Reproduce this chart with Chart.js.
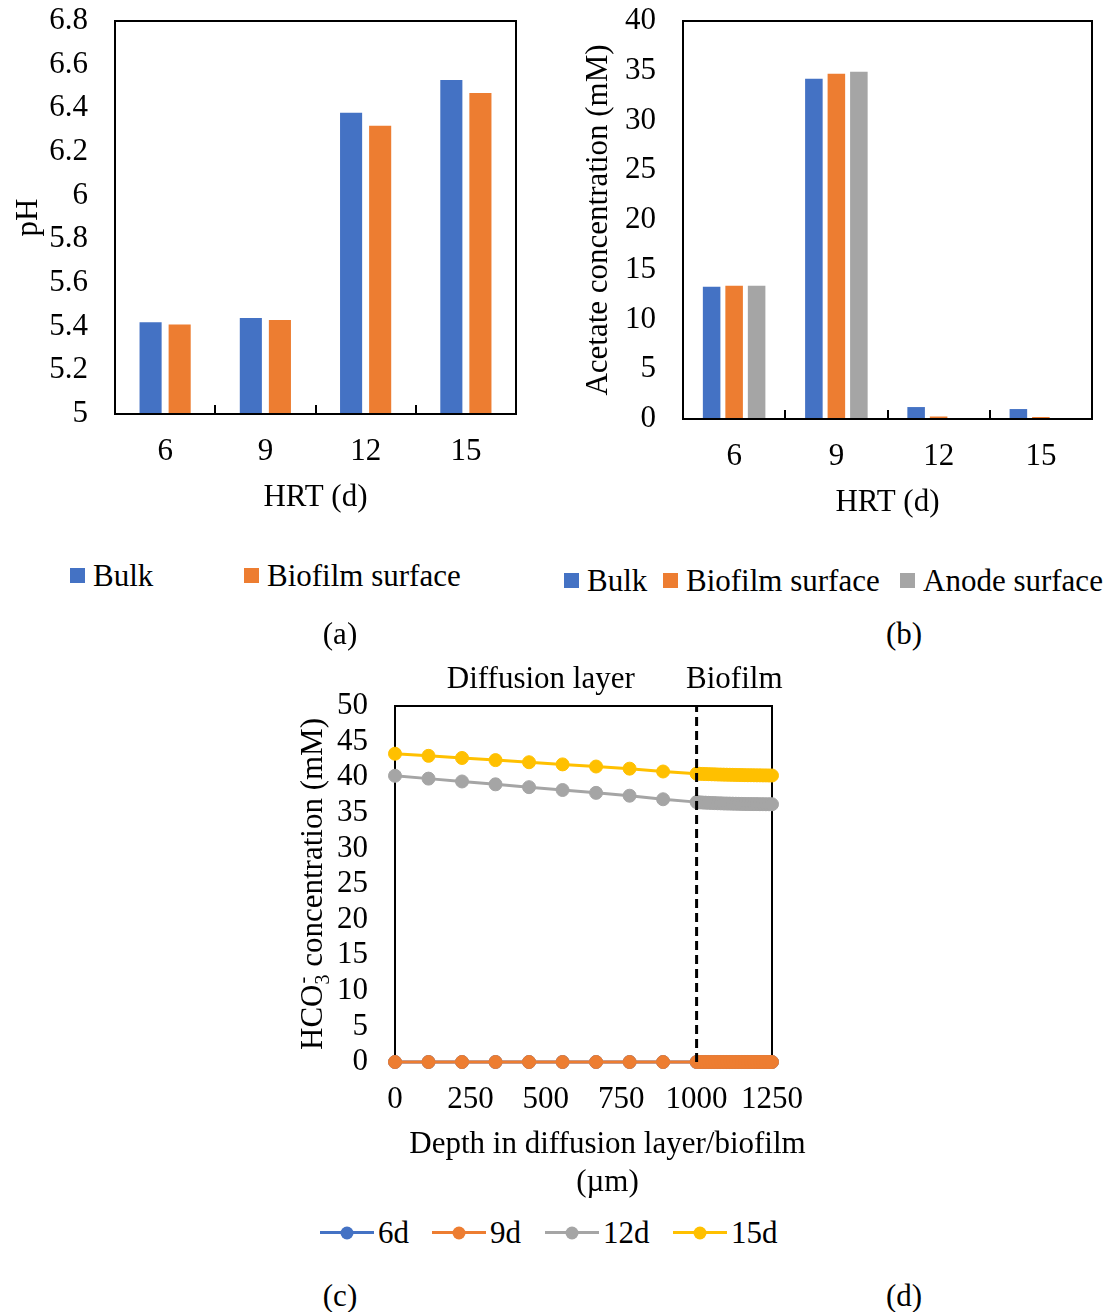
<!DOCTYPE html>
<html>
<head>
<meta charset="utf-8">
<title>HRT: pH, acetate and bicarbonate profiles</title>
<script src="https://cdn.jsdelivr.net/npm/chart.js@4.4.1/dist/chart.umd.min.js"></script>
<style>
  body { margin: 0; background: #fff; }
  #figure {
    position: relative; width: 1114px; height: 1312px; overflow: hidden;
    font-family: 'Liberation Serif', serif; font-size: 31px; color: #000;
  }
  #figure canvas { position: absolute; }
  .key { position: absolute; display: flex; align-items: center; line-height: 1; white-space: nowrap; }
  .swatch { width: 15px; height: 15px; margin-right: 8px; }
  .trace { position: relative; width: 54px; height: 3px; margin-right: 4px; }
  .trace::after {
    content: ""; position: absolute; left: 50%; top: 50%; width: 13px; height: 13px;
    border-radius: 50%; background: inherit; transform: translate(-50%, -50%);
  }
  .panel { position: absolute; line-height: 1; transform: translateX(-50%); }
</style>
</head>
<body>
<div id="figure">
  <canvas id="phChart" width="545" height="520" style="left:0;top:0"></canvas>
  <canvas id="acetateChart" width="554" height="525" style="left:560px;top:0"></canvas>
  <canvas id="hco3Chart" width="560" height="560" style="left:280px;top:650px"></canvas>

  <div class="key" style="left:70px;top:560px"><span class="swatch" style="background:#4472C4"></span>Bulk</div>
  <div class="key" style="left:244px;top:560px"><span class="swatch" style="background:#ED7D31"></span>Biofilm surface</div>

  <div class="key" style="left:564px;top:565px"><span class="swatch" style="background:#4472C4"></span>Bulk</div>
  <div class="key" style="left:663px;top:565px"><span class="swatch" style="background:#ED7D31"></span>Biofilm surface</div>
  <div class="key" style="left:900px;top:565px"><span class="swatch" style="background:#A5A5A5"></span>Anode surface</div>

  <div class="key" style="left:320px;top:1217px"><span class="trace" style="background:#4472C4"></span>6d</div>
  <div class="key" style="left:432px;top:1217px"><span class="trace" style="background:#ED7D31"></span>9d</div>
  <div class="key" style="left:545px;top:1217px"><span class="trace" style="background:#A5A5A5"></span>12d</div>
  <div class="key" style="left:673px;top:1217px"><span class="trace" style="background:#FFC000"></span>15d</div>

  <div class="panel" style="left:340px;top:618px">(a)</div>
  <div class="panel" style="left:904px;top:618px">(b)</div>
  <div class="panel" style="left:340px;top:1280px">(c)</div>
  <div class="panel" style="left:904px;top:1280px">(d)</div>
</div>

<script>
// HRT groups (d)
const hrtLabels = ['6', '9', '12', '15'];

// pH in the bulk liquid and at the biofilm surface
const phBulk = [5.42, 5.44, 6.38, 6.53];
const phBiofilm = [5.41, 5.43, 6.32, 6.47];

// acetate concentration (mM)
const acetateBulk = [13.3, 34.2, 1.2, 1.0];
const acetateBiofilm = [13.4, 34.7, 0.25, 0.2];
const acetateAnode = [13.4, 34.9, 0, 0];

// depth into diffusion layer (0-1000) and biofilm (1000-1250), µm
const biofilmStart = 1000;
const depth = [0, 111.1, 222.2, 333.3, 444.4, 555.6, 666.7, 777.8, 888.9, 1000,
  1010, 1020, 1030, 1040, 1050, 1060, 1070, 1080, 1090, 1100, 1110, 1120, 1130,
  1140, 1150, 1160, 1170, 1180, 1190, 1200, 1210, 1220, 1230, 1240, 1250];

// HCO3- concentration (mM) along the depth profile
const hco3_6d = [0, 0, 0, 0, 0, 0, 0, 0, 0, 0,
  0, 0, 0, 0, 0, 0, 0, 0, 0, 0, 0, 0, 0, 0, 0, 0, 0, 0, 0, 0, 0, 0, 0, 0, 0];
const hco3_9d = [0, 0, 0, 0, 0, 0, 0, 0, 0, 0,
  0, 0, 0, 0, 0, 0, 0, 0, 0, 0, 0, 0, 0, 0, 0, 0, 0, 0, 0, 0, 0, 0, 0, 0, 0];
const hco3_12d = [40.2, 39.8, 39.4, 39.0, 38.6, 38.2, 37.8, 37.4, 36.9, 36.5,
  36.47, 36.44, 36.42, 36.40, 36.38, 36.36, 36.34, 36.33, 36.31, 36.30, 36.29, 36.28,
  36.27, 36.26, 36.25, 36.24, 36.23, 36.23, 36.22, 36.22, 36.21, 36.21, 36.20, 36.20, 36.20];
const hco3_15d = [43.3, 43.0, 42.7, 42.4, 42.1, 41.8, 41.5, 41.2, 40.8, 40.5,
  40.48, 40.46, 40.44, 40.43, 40.41, 40.40, 40.38, 40.37, 40.36, 40.35, 40.34, 40.33,
  40.32, 40.31, 40.30, 40.29, 40.28, 40.28, 40.27, 40.26, 40.26, 40.25, 40.25, 40.24, 40.24];

const BLUE = '#4472C4', ORANGE = '#ED7D31', GRAY = '#A5A5A5', GOLD = '#FFC000';
const FONT = "'Liberation Serif', serif";

Chart.defaults.font.family = FONT;
Chart.defaults.font.size = 31;
Chart.defaults.color = '#000';
Chart.defaults.animation = false;
Chart.defaults.responsive = false;
Chart.defaults.plugins.legend.display = false;
Chart.defaults.plugins.tooltip.enabled = false;

// black box around the plot area
function framePlugin(onTop) {
  const draw = (chart) => {
    const { ctx, chartArea: a } = chart;
    ctx.save();
    ctx.strokeStyle = '#000';
    ctx.lineWidth = 2;
    ctx.strokeRect(a.left, a.top, a.right - a.left, a.bottom - a.top);
    ctx.restore();
  };
  return onTop ? { id: 'frame', afterDatasetsDraw: draw } : { id: 'frame', beforeDatasetsDraw: draw };
}

// short inward tick marks between the category groups
const groupTicks = {
  id: 'groupTicks',
  afterDatasetsDraw(chart) {
    const { ctx, chartArea: a, scales: { x } } = chart;
    ctx.save();
    ctx.strokeStyle = '#000';
    ctx.lineWidth = 2;
    ctx.beginPath();
    for (let i = 0; i < x.ticks.length - 1; i++) {
      const px = Math.round((x.getPixelForTick(i) + x.getPixelForTick(i + 1)) / 2);
      ctx.moveTo(px, a.bottom);
      ctx.lineTo(px, a.bottom - 9);
    }
    ctx.stroke();
    ctx.restore();
  }
};

// invisible tick marks: they only hold the labels away from the axis
const xGrid = { drawOnChartArea: false, drawTicks: true, tickLength: 19, color: 'rgba(0,0,0,0)' };
const yGrid = { drawOnChartArea: false, drawTicks: true, tickLength: 27, color: 'rgba(0,0,0,0)' };
const noBorder = { display: false };
const plain = (v) => String(+(+v).toFixed(1));

// (a) pH
new Chart(document.getElementById('phChart'), {
  type: 'bar',
  data: {
    labels: hrtLabels,
    datasets: [
      { label: 'Bulk', data: phBulk, backgroundColor: BLUE },
      { label: 'Biofilm surface', data: phBiofilm, backgroundColor: ORANGE }
    ]
  },
  options: {
    layout: { padding: { top: 21, right: 29 } },
    datasets: { bar: { categoryPercentage: 0.58, barPercentage: 0.76 } },
    scales: {
      x: {
        grid: xGrid, border: noBorder,
        ticks: { padding: 0, maxRotation: 0 },
        title: { display: true, text: 'HRT (d)', padding: { top: 0, bottom: 4 } },
        afterFit: (s) => { s.height = 106; }
      },
      y: {
        min: 5, max: 6.8,
        grid: yGrid, border: noBorder,
        ticks: { stepSize: 0.2, padding: 0, autoSkip: false, callback: plain },
        title: { display: true, text: 'pH', padding: { top: 10, bottom: 0 } },
        afterFit: (s) => { s.width = 115; }
      }
    }
  },
  plugins: [framePlugin(true), groupTicks]
});

// (b) acetate
new Chart(document.getElementById('acetateChart'), {
  type: 'bar',
  data: {
    labels: hrtLabels,
    datasets: [
      { label: 'Bulk', data: acetateBulk, backgroundColor: BLUE },
      { label: 'Biofilm surface', data: acetateBiofilm, backgroundColor: ORANGE },
      { label: 'Anode surface', data: acetateAnode, backgroundColor: GRAY }
    ]
  },
  options: {
    layout: { padding: { top: 21, right: 22 } },
    datasets: { bar: { categoryPercentage: 0.66, barPercentage: 0.78 } },
    scales: {
      x: {
        grid: xGrid, border: noBorder,
        ticks: { padding: 0, maxRotation: 0 },
        title: { display: true, text: 'HRT (d)', padding: { top: 0, bottom: 4 } },
        afterFit: (s) => { s.height = 106; }
      },
      y: {
        min: 0, max: 40,
        grid: yGrid, border: noBorder,
        ticks: { stepSize: 5, padding: 0, autoSkip: false, callback: plain },
        title: { display: true, text: 'Acetate concentration (mM)', padding: { top: 20, bottom: 0 } },
        afterFit: (s) => { s.width = 123; }
      }
    }
  },
  plugins: [framePlugin(true), groupTicks]
});

// (c) HCO3- profile: zone names, rotated y title with sub/superscript, two-line x title
const profileText = {
  id: 'profileText',
  afterDraw(chart) {
    const { ctx, chartArea: a, scales: { x, y } } = chart;
    const big = `31px ${FONT}`, small = `20px ${FONT}`;
    ctx.save();
    ctx.fillStyle = '#000';
    ctx.font = big;
    ctx.textAlign = 'center';
    ctx.textBaseline = 'middle';
    ctx.fillText('Diffusion layer', x.getPixelForValue(biofilmStart / 2) - 5, a.top - 26);
    ctx.fillText('Biofilm', x.getPixelForValue((biofilmStart + x.max) / 2), a.top - 26);

    const cx = (a.left + a.right) / 2 + 24;
    ctx.fillText('Depth in diffusion layer/biofilm', cx, a.bottom + 83);
    ctx.fillText('(µm)', cx, a.bottom + 121);

    ctx.translate(y.left + 32, (a.top + a.bottom) / 2);
    ctx.rotate(-Math.PI / 2);
    ctx.textAlign = 'left';
    ctx.textBaseline = 'alphabetic';
    const head = 'HCO', tail = ' concentration (mM)';
    const wHead = ctx.measureText(head).width;
    const wTail = ctx.measureText(tail).width;
    ctx.font = small;
    const wMid = Math.max(ctx.measureText('3').width, ctx.measureText('-').width);
    let pos = -(wHead + wMid + wTail) / 2;
    const base = 10;
    ctx.font = big;
    ctx.fillText(head, pos, base);
    pos += wHead;
    ctx.font = small;
    ctx.fillText('3', pos, base + 7);
    ctx.fillText('-', pos + 1, base - 13);
    pos += wMid;
    ctx.font = big;
    ctx.fillText(tail, pos, base);
    ctx.restore();
  }
};

function profile(label, values, color, order) {
  return {
    label,
    data: depth.map((d, i) => ({ x: d, y: values[i] })),
    borderColor: color,
    backgroundColor: color,
    borderWidth: 3,
    pointRadius: 6.5,
    pointHoverRadius: 6.5,
    pointBackgroundColor: color,
    pointBorderColor: color,
    pointBorderWidth: 1,
    tension: 0,
    clip: false,
    order
  };
}

const hco3Min = 0, hco3Max = 50;

new Chart(document.getElementById('hco3Chart'), {
  type: 'line',
  data: {
    datasets: [
      {
        label: 'biofilm boundary',
        data: [{ x: biofilmStart, y: hco3Min }, { x: biofilmStart, y: hco3Max }],
        borderColor: '#000', borderWidth: 3, borderDash: [9, 5],
        pointRadius: 0, pointHoverRadius: 0, clip: false, order: 0
      },
      profile('6d', hco3_6d, BLUE, 4),
      profile('9d', hco3_9d, ORANGE, 3),
      profile('12d', hco3_12d, GRAY, 2),
      profile('15d', hco3_15d, GOLD, 1)
    ]
  },
  options: {
    layout: { padding: { top: 56, right: 68 } },
    scales: {
      x: {
        type: 'linear', min: 0, max: 1250,
        grid: xGrid, border: noBorder,
        ticks: { stepSize: 250, padding: 0, maxRotation: 0, autoSkip: false, callback: plain },
        afterFit: (s) => { s.height = 148; }
      },
      y: {
        min: hco3Min, max: hco3Max,
        grid: yGrid, border: noBorder,
        ticks: { stepSize: 5, padding: 0, autoSkip: false, callback: plain },
        afterFit: (s) => { s.width = 115; }
      }
    }
  },
  plugins: [framePlugin(false), profileText]
});
</script>
</body>
</html>
